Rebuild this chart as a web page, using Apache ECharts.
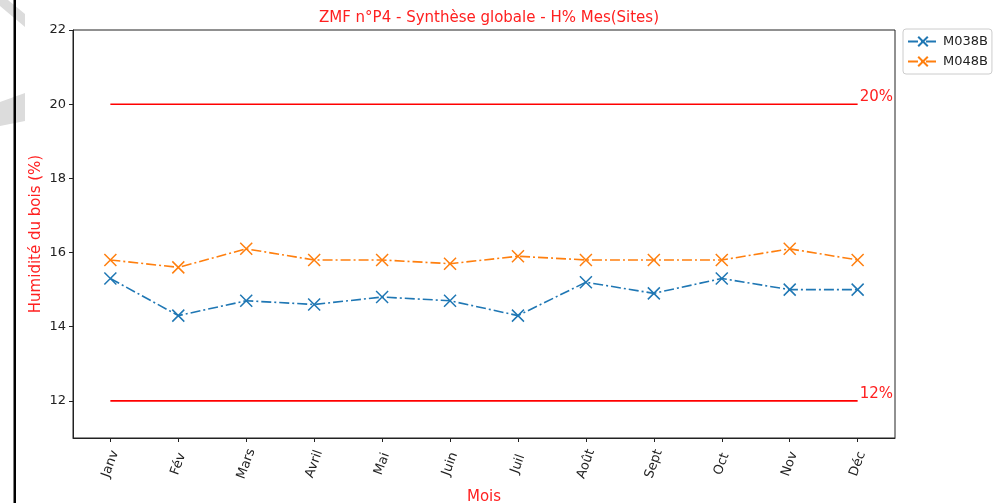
<!DOCTYPE html>
<html><head><meta charset="utf-8">
<script src="https://cdn.jsdelivr.net/npm/echarts@6/dist/echarts.min.js"></script>
<style>html,body{margin:0;padding:0;background:#fff}#c{width:997px;height:503px}</style>
</head><body><div id="c"></div>
<script>
var mois = ['Janv','Fév','Mars','Avril','Mai','Juin','Juil','Août','Sept','Oct','Nov','Déc'];
var m038b = [15.3,14.3,14.7,14.6,14.8,14.7,14.3,15.2,14.9,15.3,15.0,15.0];
var m048b = [15.8,15.6,16.1,15.8,15.8,15.7,15.9,15.8,15.8,15.8,16.1,15.8];
var seuilHaut = 20;
var seuilBas = 12;
var yTicks = [12,14,16,18,20,22];

var xIdx = mois.map(function(_, i){ return i; });
function pts(arr){ return arr.map(function(v,i){ return [i, v]; }); }
function seuil(v){ return [[0, v],[mois.length-1, v]]; }
var xMark = 'path://M0,0L10,10M10,0L0,10';
var font = 'DejaVu Sans';

var chart = echarts.init(document.getElementById('c'), null, {renderer:'canvas'});
function serie(name, data, color){
  return {
    name: name, type: 'line', data: pts(data),
    symbol: xMark, symbolSize: 12,
    itemStyle: {color: color, borderColor: color, borderWidth: 1.5},
    lineStyle: {color: color, width: 1.6, type: [10,3,2,3]},
    emphasis: {disabled: true}
  };
}
function ligne(v){
  return {
    type: 'line', data: seuil(v), symbol: 'none', silent: true,
    lineStyle: {color: '#ff0000', width: 1.6},
    endLabel: {show: true, formatter: v + '%', color: '#ff2020', fontFamily: font, fontSize: 15, distance: 2, offset: [0, -7]}
  };
}
chart.setOption({
  animation: false,
  textStyle: {fontFamily: font},
  title: {text: 'ZMF n°P4 - Synthèse globale - H% Mes(Sites)', left: 484, textAlign: 'center', top: 6,
    textStyle: {color: '#ff2020', fontSize: 15, fontWeight: 'normal', fontFamily: font}},
  legend: {
    orient: 'vertical', left: 903, top: 29, itemWidth: 30, itemHeight: 12, itemGap: 7,
    borderColor: '#cccccc', borderWidth: 1, borderRadius: 3, padding: [6, 4, 6, 4],
    textStyle: {fontSize: 13, color: '#222', fontFamily: font},
    data: ['M038B','M048B']
  },
  grid: {left: 73, right: 102, top: 30, bottom: 65, show: true, borderColor: '#222', borderWidth: 1,
    containLabel: false, outerBoundsMode: 'none'},
  xAxis: {
    type: 'value', min: -0.55, max: mois.length - 1 + 0.55,
    name: 'Mois', nameLocation: 'middle', nameGap: 52, nameMoveOverlap: false,
    nameTextStyle: {color: '#ff2020', fontSize: 15, fontFamily: font},
    axisLine: {show: true, onZero: false, lineStyle: {color: '#222'}},
    axisTick: {show: true, length: 4, customValues: xIdx, lineStyle: {color: '#222'}},
    splitLine: {show: false},
    axisLabel: {customValues: xIdx, rotate: 70, align: 'center', verticalAlign: 'middle', margin: 26,
      fontSize: 13, color: '#222', fontFamily: font,
      formatter: function(v){ return mois[Math.round(v)]; }}
  },
  yAxis: {
    type: 'value', min: 11, max: 22,
    name: 'Humidité du bois (%)', nameLocation: 'middle', nameGap: 29, nameMoveOverlap: false,
    nameTextStyle: {color: '#ff2020', fontSize: 15, fontFamily: font},
    axisLine: {show: true, onZero: false, lineStyle: {color: '#222'}},
    axisTick: {show: true, length: 4, customValues: yTicks, lineStyle: {color: '#222'}},
    splitLine: {show: false},
    axisLabel: {customValues: yTicks, fontSize: 13, color: '#222', margin: 7, fontFamily: font}
  },
  graphic: [
    {type: 'rect', shape: {x: 13.5, y: 0, width: 2.5, height: 503}, style: {fill: '#000'}, z: 100},
    {type: 'polygon', shape: {points: [[0,0],[8,0],[25,14],[25,27],[0,6]]}, style: {fill: '#dcdcdc'}, z: 99},
    {type: 'polygon', shape: {points: [[0,102],[25,93],[25,121],[0,126]]}, style: {fill: '#dcdcdc'}, z: 99}
  ],
  series: [
    ligne(seuilHaut), ligne(seuilBas),
    serie('M038B', m038b, '#1f77b4'),
    serie('M048B', m048b, '#ff7f0e')
  ]
});
</script></body></html>
